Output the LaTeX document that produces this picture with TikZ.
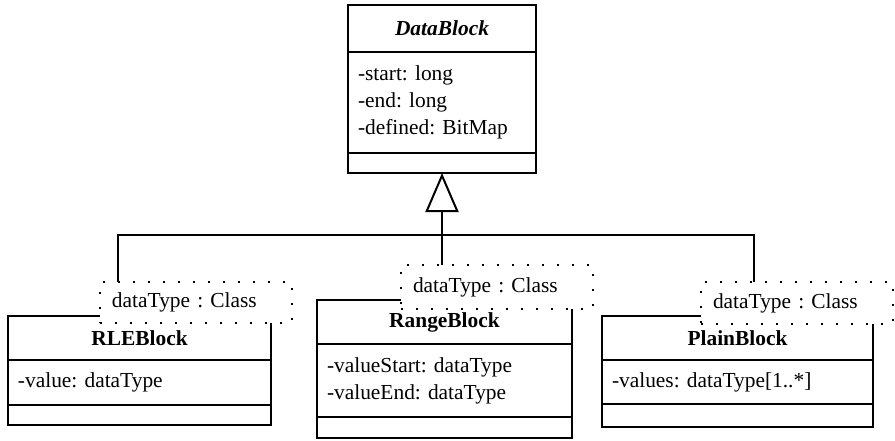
\documentclass[tikz,border=0pt]{standalone}
\usepackage{fontspec}
\setmainfont{Liberation Serif}
\usetikzlibrary{arrows.meta}
\frenchspacing

\tikzset{
  part/.style={draw, line width=1pt, rectangle, outer sep=0pt, inner xsep=5pt, inner ysep=0pt},
  classname/.style={part, align=center, font=\fontsize{10.7}{13.5}\selectfont\bfseries},
  fields/.style={part, align=left, font=\fontsize{10.7}{13.5}\selectfont},
  ops/.style={part},
  tmpl/.style={draw, fill=white, line width=1pt, dash pattern=on 1pt off 6.5pt, outer sep=0pt,
    inner xsep=6pt, inner ysep=0pt, align=left, text width=84pt, font=\fontsize{10.7}{13.5}\selectfont},
  link/.style={line width=1pt},
  inherit/.style={line width=1pt, -{Triangle[open, length=19.5pt, width=16.5pt]}}
}

\begin{document}
\begin{tikzpicture}[x=0.5pt, y=-0.5pt]
    \useasboundingbox (0,0) rectangle (895,440);

    % superclass
    \node[classname, font=\fontsize{10.7}{13.5}\selectfont\bfseries\itshape, anchor=north west,
      minimum width=94pt, minimum height=23.5pt] (dbname) at (348,5) {DataBlock};
    \node[fields, anchor=north, text width=84pt, minimum height=50.5pt] (dbattr) at (dbname.south)
      {-start: long\\-end: long\\-defined: BitMap};
    \node[ops, anchor=north, minimum width=94pt, minimum height=10pt] (dbops) at (dbattr.south) {};

    % subclasses
    \node[classname, anchor=north west, minimum width=131.5pt, minimum height=22pt] (rlename) at (8,316) {RLEBlock};
    \node[fields, anchor=north, text width=121.5pt, minimum height=22.5pt] (rleattr) at (rlename.south) {-value: dataType};
    \node[ops, anchor=north, minimum width=131.5pt, minimum height=10pt] (rleops) at (rleattr.south) {};

    \node[classname, anchor=north west, minimum width=127.5pt, minimum height=22pt] (rangename) at (317,300) {RangeBlock};
    \node[fields, anchor=north, text width=117.5pt, minimum height=36.5pt] (rangeattr) at (rangename.south)
      {-valueStart: dataType\\-valueEnd: dataType};
    \node[ops, anchor=north, minimum width=127.5pt, minimum height=10.5pt] (rangeops) at (rangeattr.south) {};

    \node[classname, anchor=north west, minimum width=135.5pt, minimum height=22pt] (plainname) at (602,316) {PlainBlock};
    \node[fields, anchor=north, text width=125.5pt, minimum height=22pt] (plainattr) at (plainname.south) {-values: dataType[1..*]};
    \node[ops, anchor=north, minimum width=135.5pt, minimum height=11.5pt] (plainops) at (plainattr.south) {};

    % template parameters
    \node[tmpl, anchor=north west, minimum height=20.5pt] (rletpl) at (100,282) {dataType : Class};
    \node[tmpl, anchor=north west, minimum height=22pt] (rangetpl) at (401,265) {dataType : Class};
    \node[tmpl, anchor=north west, minimum height=21pt] (plaintpl) at (701,282) {dataType : Class};

    % generalization
    \coordinate (bus) at ([yshift=-31pt]dbops.south);
    \draw[link] ([xshift=9pt]rletpl.north west) |- (bus);
    \draw[link] (bus |- rangetpl.north) -- (bus);
    \draw[link] ([xshift=26.5pt]plaintpl.north west) |- (bus);
    \draw[inherit] (bus) -- (dbops.south);
\end{tikzpicture}
\end{document}
